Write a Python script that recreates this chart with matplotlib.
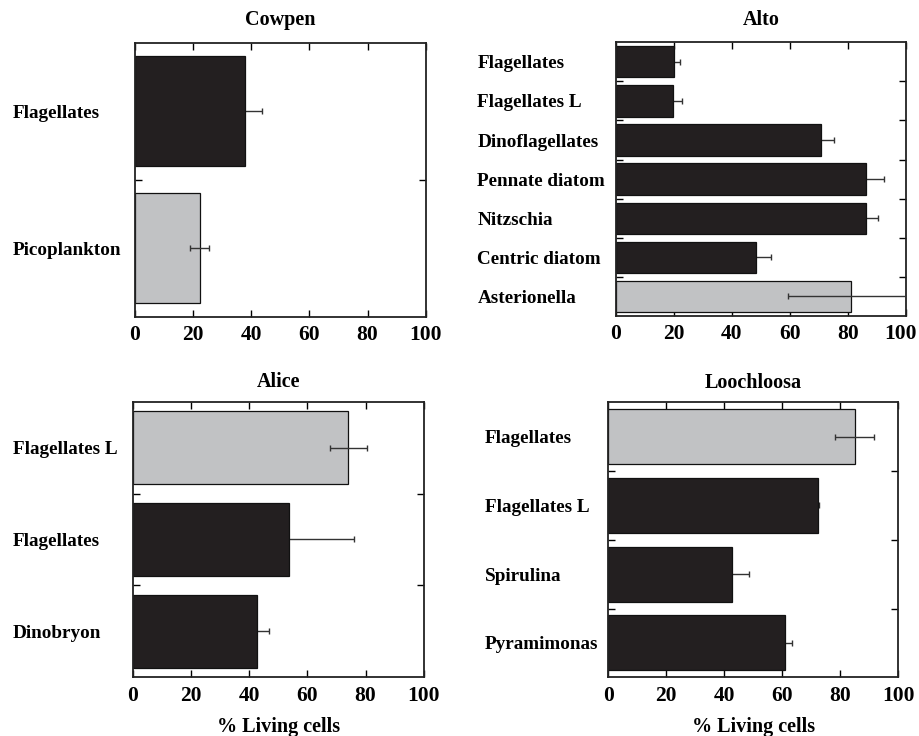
import matplotlib.pyplot as plt
import matplotlib.transforms as mtransforms
import numpy as np

# % living cells per taxon, top of each list = top bar
cowpen_taxa = ['Flagellates', 'Picoplankton']
cowpen_mean = [38.0, 22.3]
cowpen_err = [5.8, 3.2]
cowpen_grey = [False, True]

alto_taxa = ['Flagellates', 'Flagellates L', 'Dinoflagellates', 'Pennate diatom',
             'Nitzschia', 'Centric diatom', 'Asterionella']
alto_mean = [20.0, 19.8, 70.6, 86.2, 86.2, 48.3, 81.2]
alto_err = [2.0, 3.0, 4.7, 6.1, 4.1, 5.2, 21.7]
alto_grey = [False, False, False, False, False, False, True]

alice_taxa = ['Flagellates L', 'Flagellates', 'Dinobryon']
alice_mean = [74.1, 53.7, 42.5]
alice_err = [6.3, 22.4, 4.2]
alice_grey = [True, False, False]

loo_taxa = ['Flagellates', 'Flagellates L', 'Spirulina', 'Pyramimonas']
loo_mean = [84.9, 72.3, 42.5, 60.9]
loo_err = [6.8, 0.5, 6.1, 2.5]
loo_grey = [True, False, False, False]

DARK = '#231f20'
GREY = '#c1c2c4'

plt.rcParams['font.family'] = 'Liberation Serif'
plt.rcParams['font.weight'] = 'bold'


def panel(ax, title, taxa, mean, err, grey, label_pad, title_pad, xlabel=False):
	n = len(taxa)
	y = np.arange(n)[::-1]
	colors = [GREY if g else DARK for g in grey]
	ax.barh(y, mean, height=0.8, color=colors, edgecolor='#111111', linewidth=0.9, zorder=2)
	# error bars sit on top of grey bars, behind dark ones
	for yi, m, e, g in zip(y, mean, err, grey):
		ax.errorbar(m, yi, xerr=e, fmt='none', ecolor='#333333', elinewidth=1.0,
			capsize=2, capthick=1.0, zorder=3 if g else 1)
	ax.set_xlim(0, 100)
	ax.set_ylim(-0.5, n - 0.5)
	ax.set_xticks([0, 20, 40, 60, 80, 100])
	ax.tick_params(axis='x', direction='in', top=True, bottom=True, length=5,
		width=1, labelsize=15.5, pad=6)
	# labels at bar centres, small ticks on the slot boundaries
	ax.set_yticks(y)
	ax.set_yticklabels(taxa, fontsize=13.8, ha='left')
	ax.tick_params(axis='y', which='major', length=0, pad=label_pad)
	ax.set_yticks(np.arange(n - 1) + 0.5, minor=True)
	ax.tick_params(axis='y', which='minor', direction='in', left=True, right=True,
		length=5, width=1)
	for s in ax.spines.values():
		s.set_linewidth(1.3)
		s.set_color('#222222')
	ax.set_title(title, fontsize=14.5, fontweight='bold', pad=title_pad)
	if xlabel:
		ax.set_xlabel('% Living cells', fontsize=14.5, fontweight='bold', labelpad=8)


fig = plt.figure(figsize=(9.2, 7.36), dpi=100)
ax1 = fig.add_axes([0.1467, 0.5697, 0.316, 0.3723])
ax2 = fig.add_axes([0.6692, 0.5707, 0.3155, 0.3719])
ax3 = fig.add_axes([0.1446, 0.0798, 0.316, 0.3745])
ax4 = fig.add_axes([0.6612, 0.0798, 0.3152, 0.3736])

# pads in points: distance from axis line to the left edge of the labels
panel(ax1, 'Cowpen', cowpen_taxa, cowpen_mean, cowpen_err, cowpen_grey, 87.8, 12.5)
panel(ax2, 'Alto', alto_taxa, alto_mean, alto_err, alto_grey, 99.6, 12.5)
panel(ax3, 'Alice', alice_taxa, alice_mean, alice_err, alice_grey, 86.4, 10.5, xlabel=True)
panel(ax4, 'Loochloosa', loo_taxa, loo_mean, loo_err, loo_grey, 88.8, 10.5, xlabel=True)

# keep the last Alto tick label inside the figure edge
last = ax2.get_xticklabels()[-1]
last.set_transform(last.get_transform() + mtransforms.ScaledTranslation(-4 / 72, 0, fig.dpi_scale_trans))

fig.savefig('out.png', dpi=100)
